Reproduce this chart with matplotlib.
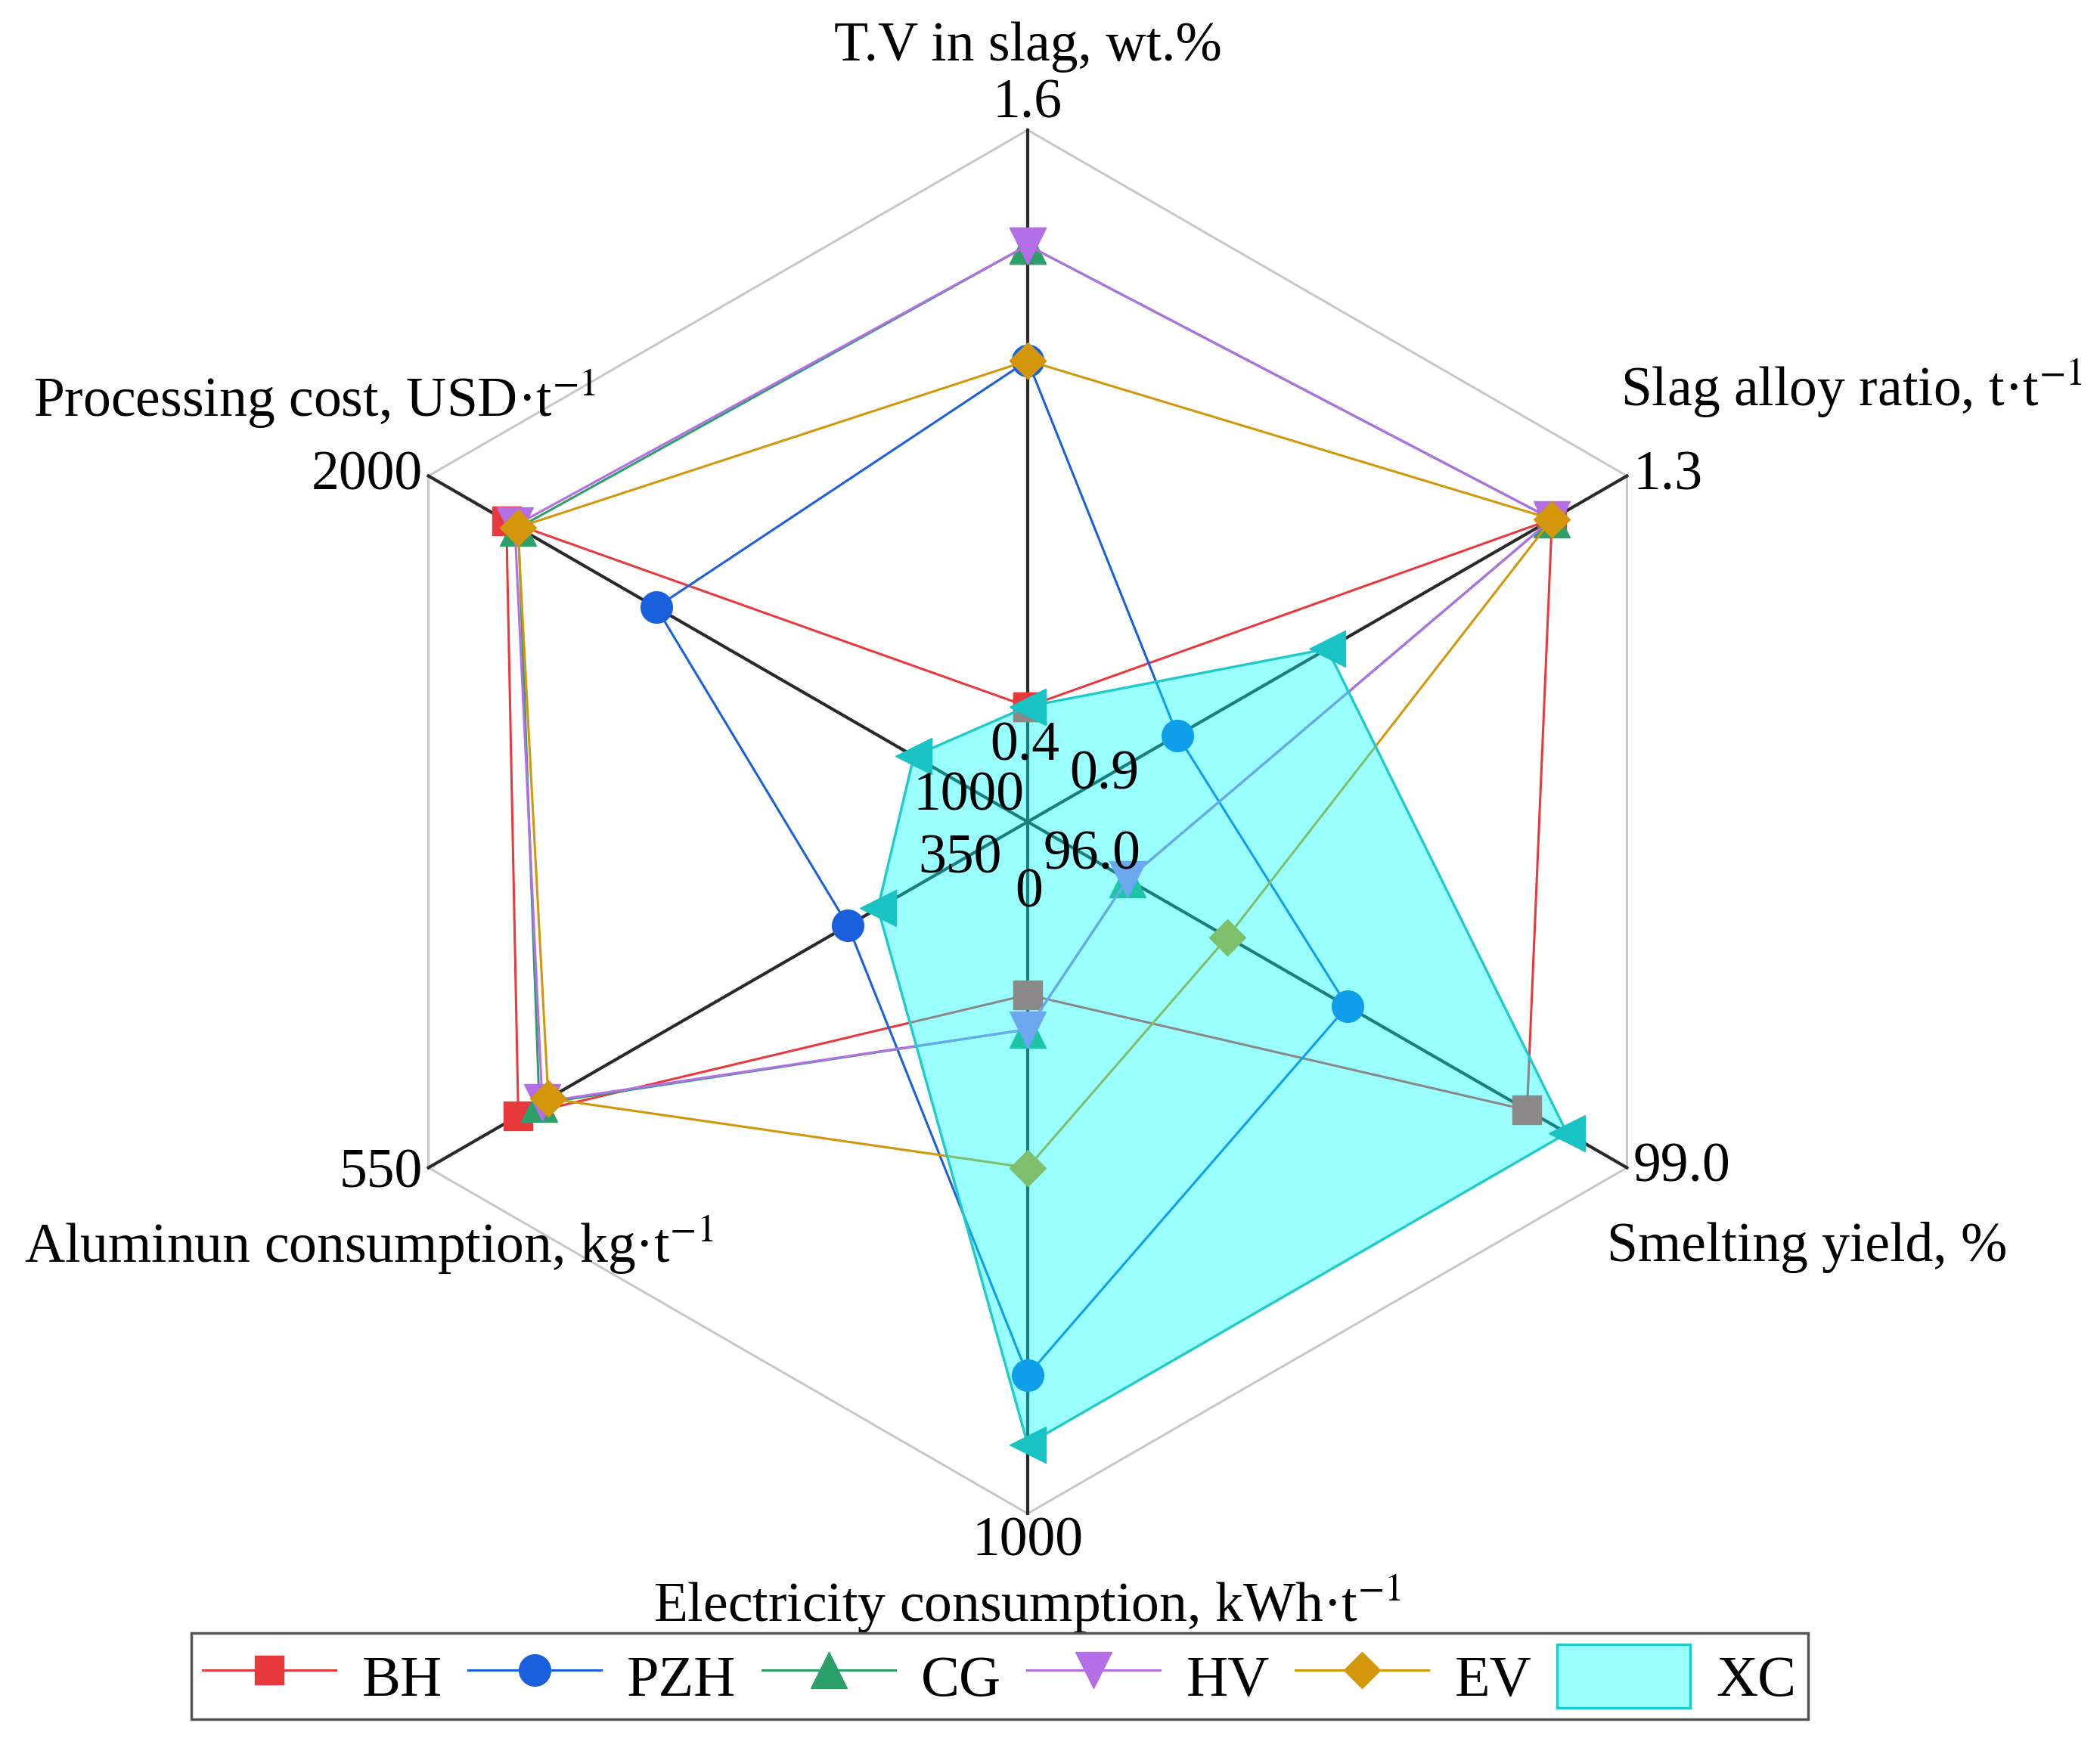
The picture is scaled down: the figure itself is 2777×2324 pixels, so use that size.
import numpy as np
import matplotlib.pyplot as plt

plt.rcParams['font.family'] = ['Liberation Serif', 'DejaVu Serif']
plt.rcParams['mathtext.fontset'] = 'stix'

# radar axes, clockwise from the top
axis_names = ['T.V in slag, wt.%',
              'Slag alloy ratio, t\u00b7t$^{-1}$',
              'Smelting yield, %',
              'Electricity consumption, kWh\u00b7t$^{-1}$',
              'Aluminun consumption, kg\u00b7t$^{-1}$',
              'Processing cost, USD\u00b7t$^{-1}$']
axis_min = [0.4, 0.9, 96.0, 0, 350, 1000]
axis_max = [1.6, 1.3, 99.0, 1000, 550, 2000]
min_labels = ['0.4', '0.9', '96.0', '0', '350', '1000']
max_labels = ['1.6', '1.3', '99.0', '1000', '550', '2000']

# values
BH = [0.60, 1.25, 98.5, 250, 520, 1870]
PZH = [1.20, 1.00, 97.6, 800, 410, 1620]
CG = [1.40, 1.25, 96.5, 300, 513, 1850]
HV = [1.40, 1.25, 96.5, 300, 512, 1856]
EV = [1.20, 1.25, 97.0, 500, 510, 1851]
XC = [0.60, 1.10, 98.7, 900, 400, 1190]

series = [('BH', BH, '#e8393c', 's', 28),
          ('PZH', PZH, '#1a5fdc', 'o', 30),
          ('CG', CG, '#2da06a', '^', 34),
          ('HV', HV, '#b46ee6', 'v', 34),
          ('EV', EV, '#d4960a', 'D', 24)]


def norm(vals):
    return [(v - lo) / (hi - lo) for v, lo, hi in zip(vals, axis_min, axis_max)]


angles = np.deg2rad(np.arange(6) * 60.0)
th = np.append(angles, angles[0])

W, H = 2777, 2324
fig = plt.figure(figsize=(W / 100, H / 100), dpi=100)
cx, cy, R = 1359, 1087, 915
ax = fig.add_axes([(cx - R) / W, (H - cy - R) / H, 2 * R / W, 2 * R / H], projection='polar')
ax.set_theta_zero_location('N')
ax.set_theta_direction(-1)
ax.axis('off')

# hexagon frame and spokes
ax.plot(th, [1] * 7, color='#c8c8c8', lw=2.2, zorder=1, clip_on=False)
for a in angles:
    ax.plot([a, a], [0, 1], color='#2a2a2a', lw=3, zorder=2, clip_on=False)

handles = []
for i, (name, vals, col, mk, ms) in enumerate(series):
    r = norm(vals)
    ln, = ax.plot(th, r + r[:1], color=col, lw=2.2, marker=mk, ms=ms,
                  mfc=col, mec=col, zorder=3 + i * 0.1, clip_on=False, label=name)
    handles.append(ln)

r = norm(XC)
patch, = ax.fill(th, r + r[:1], facecolor=(0, 1, 1, 0.4), edgecolor='#1ecaca',
                 lw=2.4, zorder=5, label='XC')
ax.plot(th, r + r[:1], ls='none', marker='<', ms=34, color='#19c3c3', zorder=6, clip_on=False)
handles.append(patch)
ax.set_ylim(0, 1)

fs = 53
k = 0.72  # px -> pt
# labels at the centre (offsets in px: right, down)
center_off = [(-4, -99), (101, -61), (85, 45), (2, 95), (-90, 50), (-78, -33)]
for a, lab, (dx, dy) in zip(angles, min_labels, center_off):
    ax.annotate(lab, xy=(a, 0), xytext=(dx * k, -dy * k), textcoords='offset points',
                ha='center', va='center', fontsize=fs, zorder=7)

# labels at the outer vertices
outer = [((0, 0), 'center', 'bottom'), ((8, 0), 'left', 'center'),
         ((8, 0), 'left', 'center'), ((0, -4), 'center', 'top'),
         ((-8, -8), 'right', 'center'), ((-8, 0), 'right', 'center')]
for a, lab, ((dx, dy), ha, va) in zip(angles, max_labels, outer):
    ax.annotate(lab, xy=(a, 1), xytext=(dx * k, dy * k), textcoords='offset points',
                ha=ha, va=va, fontsize=fs, zorder=7)

# axis titles (figure px)
title_pos = [(1359, 62, 'center'), (2143, 514, 'left'), (2125, 1650, 'left'),
             (1359, 2122, 'center'), (32, 1647, 'left'), (44, 528, 'left')]
for name, (x, y, ha) in zip(axis_names, title_pos):
    fig.text(x / W, 1 - y / H, name, ha=ha, va='center', fontsize=fs)

leg = fig.legend(handles=handles, loc='center', bbox_to_anchor=(1322 / W, 1 - 2217 / H),
                 ncol=6, fontsize=55, handlelength=2.3, handleheight=1.3,
                 handletextpad=0.45, columnspacing=0.45, borderpad=0.2,
                 fancybox=False, framealpha=1)
leg.get_frame().set_edgecolor('#555555')
leg.get_frame().set_linewidth(2.5)

fig.savefig('out.png', dpi=100)
